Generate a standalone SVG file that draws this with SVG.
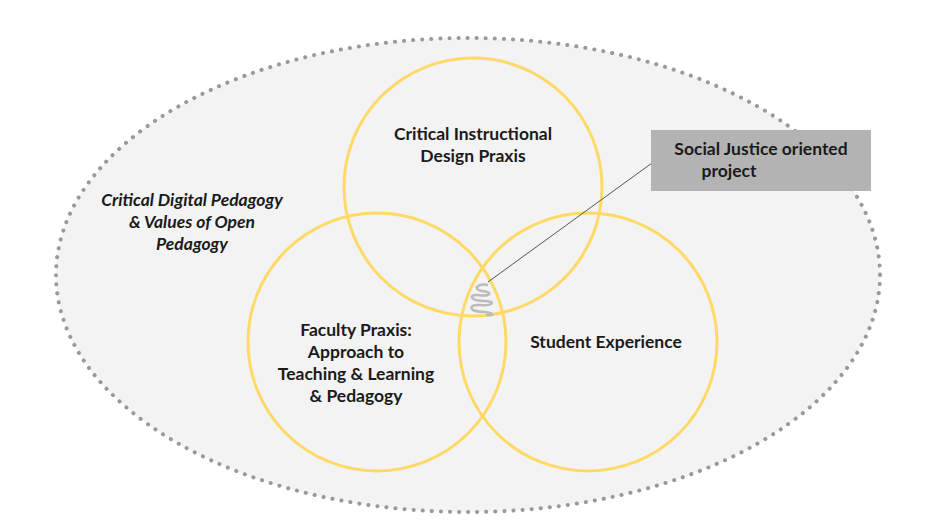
<svg xmlns="http://www.w3.org/2000/svg" width="932" height="524" viewBox="0 0 932 524">
<style>
.c{fill:none;stroke:#ffd966;stroke-width:3}
.t{font-family:Lato,"Noto Sans",sans-serif;font-weight:bold;font-size:17.5px;fill:#1a1a1a;text-anchor:middle}
</style>
<rect width="932" height="524" fill="#fff"/>
<g id="context"><ellipse cx="468" cy="275" rx="412" ry="237" fill="#f3f3f3" stroke="#999" stroke-width="4" stroke-dasharray="0.1 9" stroke-linecap="round"/>
<text class="t" font-style="italic"><tspan x="192" y="206">Critical Digital Pedagogy</tspan><tspan x="192" y="228">&amp; Values of Open</tspan><tspan x="192" y="250">Pedagogy</tspan></text></g>
<g id="design"><circle class="c" cx="473" cy="187" r="129"/><text class="t"><tspan x="473" y="140">Critical Instructional</tspan><tspan x="473" y="162">Design Praxis</tspan></text></g>
<g id="faculty"><circle class="c" cx="377" cy="342" r="129"/><text class="t"><tspan x="356" y="336">Faculty Praxis:</tspan><tspan x="356" y="358">Approach to</tspan><tspan x="356" y="380">Teaching &amp; Learning</tspan><tspan x="356" y="402">&amp; Pedagogy</tspan></text></g>
<g id="student"><circle class="c" cx="588" cy="342" r="129"/><text class="t" x="606" y="348">Student Experience</text></g>
<g id="connectors"><line x1="488" y1="282" x2="652" y2="163" stroke="#555" stroke-width="1"/>
<path d="M488,285 C478,283 472,289 482,291 C494,292 490,297 478,295 C468,294 470,301 484,301 C496,301 494,306 480,305 C468,304 468,312 484,312 C494,313 496,316 486,315" fill="none" stroke="#bbb" stroke-width="2.5"/></g>
<g id="callout"><rect x="651" y="130" width="220" height="61" fill="#b3b3b3"/><text class="t"><tspan x="761" y="155">Social Justice oriented</tspan><tspan x="729" y="177">project</tspan></text></g>
</svg>
